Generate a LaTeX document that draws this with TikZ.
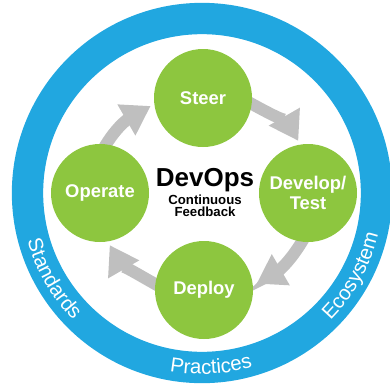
\documentclass[tikz,border=0pt]{standalone}
\usepackage{fontspec}
\setmainfont{Liberation Sans}
\usetikzlibrary{arrows.meta}
\usetikzlibrary{backgrounds}
\usetikzlibrary{decorations.text}
\newcommand\ringfont{\fontsize{15.3}{16}\selectfont}

\begin{document}
\begin{tikzpicture}[x=0.75pt,y=0.75pt,yscale=-1,xscale=1,
  phase/.style={circle, fill={rgb, 255:red, 141; green, 198; blue, 63 }, minimum size=73.5pt, inner sep=0pt, align=center, text=white, font=\bfseries\fontsize{13.8}{15}\selectfont},
  flow/.style={draw={rgb, 255:red, 191; green, 191; blue, 191 }, line width=9pt, -{Triangle[width=25.5pt,length=21pt]}, shorten <=-6pt, shorten >=3pt},
  hubtext/.style={anchor=base, inner sep=0pt, font=\bfseries\fontsize{9.9}{10}\selectfont},
  ringlabel/.style={decorate, decoration={text along path, text align=center, text color=white, text={|\ringfont|#1}}}]
\useasboundingbox (0,0) rectangle (390,386);

%Shape: Ring
\coordinate (ringc) at (202,193);
\draw [draw={rgb, 255:red, 33; green, 167; blue, 224 }, line width=23.5pt] (ringc) circle [radius=174.5];

%Shape: Circle
\node [phase] (steer) at (203,98) {Steer};
%Shape: Circle
\node [phase] (devtest) at (308,193) {Develop/\\Test};
%Shape: Circle
\node [phase] (deploy) at (204,290) {Deploy};
%Shape: Circle
\node [phase] (operate) at (100,193) {Operate};

%Curve Lines
\begin{scope}[on background layer]
\draw [flow] (steer.-7) to [out=29, in=-120] (devtest.99);
\draw [flow] (devtest.-97) to [out=119, in=-30] (deploy.5);
\draw [flow] (deploy.173) to [out=-151, in=60] (operate.-81);
\draw [flow] (operate.83) to [out=-61, in=150] (steer.-173);
\end{scope}

% Text Node
\node [hubtext, font=\bfseries\fontsize{19.5}{20}\selectfont] (devops) at (205,186) {DevOps};
% Text Node
\node [hubtext] (continuous) at (205,204) {Continuous};
% Text Node
\node [hubtext] (feedback) at (205,216) {Feedback};

% Text on ring
\path [ringlabel=Standards] (ringc) ++(172:181) arc [start angle=172, end angle=128, radius=181];
\path [ringlabel=Practices] (ringc) ++(109:181) arc [start angle=109, end angle=65, radius=181];
\path [ringlabel=Ecosystem] (ringc) ++(51:181) arc [start angle=51, end angle=7, radius=181];

\end{tikzpicture}
\end{document}
